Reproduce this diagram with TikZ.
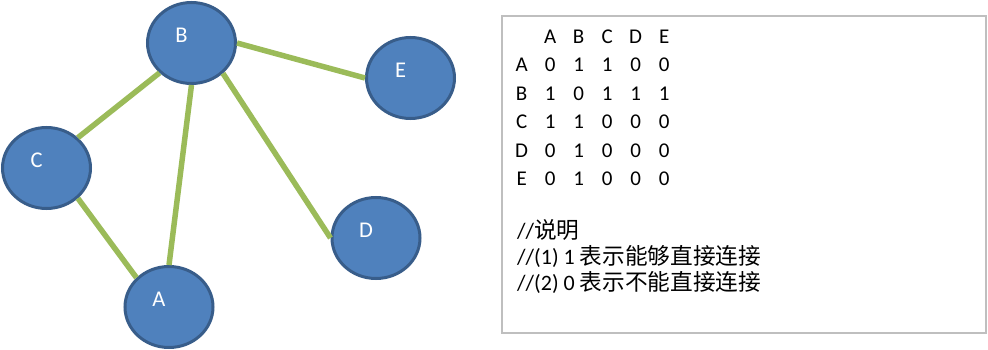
\documentclass[tikz,border=0pt]{standalone}
\usepackage{fontspec}
\setmainfont{Carlito}
\newfontfamily\cjk[Scale=1.03]{Noto Sans CJK SC}
\usetikzlibrary{shapes.geometric}
\definecolor{nodeblue}{HTML}{4F81BD}
\definecolor{nodeedge}{HTML}{385D8A}
\definecolor{linkgreen}{HTML}{9BBB59}
\definecolor{framegray}{HTML}{BFBFBF}
\newcommand{\cell}[1]{\makebox[28.5pt]{#1}}

\begin{document}
\begin{tikzpicture}[x=1pt, y=-1pt, every node/.style={font=\fontsize{21}{25}\selectfont},
	vertex/.style={ellipse, draw=nodeedge, line width=3pt, fill=nodeblue, minimum width=88pt, minimum height=81pt, inner sep=0pt},
	lbl/.style={text=white, font=\fontsize{22.5}{27}\selectfont, xshift=-10pt, yshift=7.5pt},
	link/.style={linkgreen, line width=5.5pt},
	row/.style={anchor=base west, inner sep=0pt},
	noterow/.style={row, font=\fontsize{22}{26}\selectfont}]
	\useasboundingbox (0,0) rectangle (988,350);
	% graph
	\node[vertex, label={[lbl]center:B}] (B) at (191.5,43) {};
	\node[vertex, label={[lbl]center:E}] (E) at (410.5,78) {};
	\node[vertex, label={[lbl]center:C}] (C) at (46.5,168) {};
	\node[vertex, label={[lbl]center:D}] (D) at (376,238) {};
	\node[vertex, label={[lbl]center:A}] (A) at (169,307) {};
	\draw[link] (B.east) -- (E.west);
	\draw[link] (B.223) -- (C.44);
	\draw[link] (B.south) -- (A.north);
	\draw[link] (B.-44) -- (D.west);
	\draw[link] (C.-44) -- (A.138);
	% adjacency matrix
	\draw[framegray, line width=2pt] (502,16) rectangle (986,333);
	\node[row] (head) at (507.25,43.5) {\cell{}\cell{A}\cell{B}\cell{C}\cell{D}\cell{E}};
	\node[row] (rowA) at (507.25,71.9) {\cell{A}\cell{0}\cell{1}\cell{1}\cell{0}\cell{0}};
	\node[row] (rowB) at (507.25,100.3) {\cell{B}\cell{1}\cell{0}\cell{1}\cell{1}\cell{1}};
	\node[row] (rowC) at (507.25,128.7) {\cell{C}\cell{1}\cell{1}\cell{0}\cell{0}\cell{0}};
	\node[row] (rowD) at (507.25,157.1) {\cell{D}\cell{0}\cell{1}\cell{0}\cell{0}\cell{0}};
	\node[row] (rowE) at (507.25,185.5) {\cell{E}\cell{0}\cell{1}\cell{0}\cell{0}\cell{0}};
	% notes
	\node[noterow] (note) at (517,238.5) {//{\cjk 说明}};
	\node[noterow] (noteone) at (517,264.5) {//(1) 1 {\cjk 表示能够直接连接}};
	\node[noterow] (notetwo) at (517,290) {//(2) 0 {\cjk 表示不能直接连接}};
\end{tikzpicture}
\end{document}
